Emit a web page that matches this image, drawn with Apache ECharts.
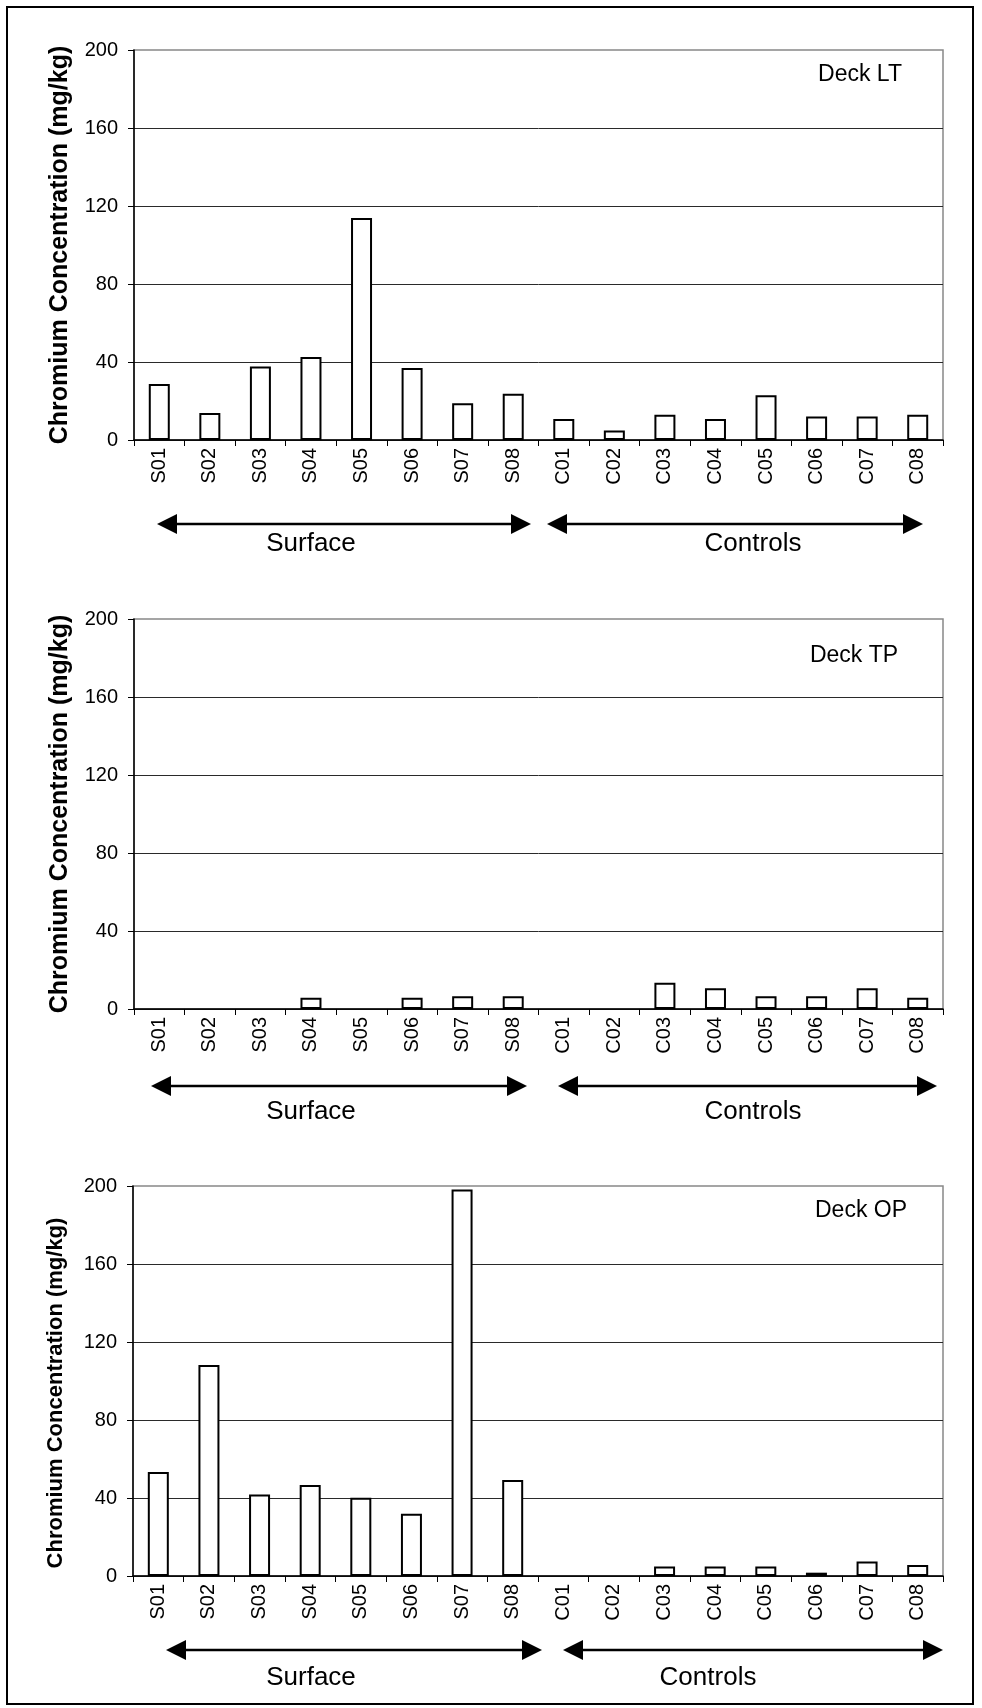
<!DOCTYPE html>
<html>
<head>
<meta charset="utf-8">
<title>Chromium Concentration by Deck</title>
<script src="https://cdn.jsdelivr.net/npm/echarts@6/dist/echarts.min.js"></script>
<style>
  html, body { margin: 0; padding: 0; background: #fff; }
  #chart { width: 982px; height: 1708px; }
</style>
</head>
<body>
<div id="chart"></div>
<script>
// Sample locations: surface samples then controls
const categories = ['S01', 'S02', 'S03', 'S04', 'S05', 'S06', 'S07', 'S08',
                    'C01', 'C02', 'C03', 'C04', 'C05', 'C06', 'C07', 'C08'];

// Chromium concentration (mg/kg) per deck; null = no result
const deckLT = [28.7, 13.8, 37.7, 42.6, 113.8, 36.9, 18.8, 23.7,
                10.8, 4.9, 13.0, 10.8, 22.9, 12.1, 12.1, 13.0];
const deckTP = [null, null, null, 5.8, null, 5.8, 6.6, 6.6,
                null, null, 13.4, 10.7, 6.6, 6.6, 10.7, 5.8];
const deckOP = [53.3, 108.2, 41.8, 46.7, 40.1, 31.9, 198.2, 49.2,
                null, null, 4.9, 4.9, 4.9, 1.7, 7.5, 5.6];

const yTicks = [0, 40, 80, 120, 160, 200];
const deckNames = ['Deck LT', 'Deck TP', 'Deck OP'];
const groupNames = ['Surface', 'Controls'];
const yTitle = 'Chromium Concentration (mg/kg)';

const FONT = "'Liberation Sans', Arial, sans-serif";

// Panel geometry (pixels)
const panels = [
  { left: 134, top: 50,   width: 809, height: 390, titleSize: 25, nameGap: 61, namePad: [0, 0, 0, 0],
    deck: [860, 75],
    arrows: [[157, 531, 524], [547, 923, 524]],
    groups: [[311, 544], [753, 544]] },
  { left: 134, top: 619,  width: 809, height: 390, titleSize: 25, nameGap: 61, namePad: [0, 0, 0, 0],
    deck: [854, 656],
    arrows: [[151, 527, 1086], [558, 937, 1086]],
    groups: [[311, 1112], [753, 1112]] },
  { left: 133, top: 1186, width: 810, height: 390, titleSize: 22, nameGap: 66, namePad: [0, 24, 0, 0],
    deck: [861, 1211],
    arrows: [[166, 542, 1650], [563, 943, 1650]],
    groups: [[311, 1678], [708, 1678]] }
];
const seriesData = [deckLT, deckTP, deckOP];

function doubleArrow(x1, x2, y) {
  const head = 20, half = 10;
  return [
    { type: 'line', shape: { x1: x1 + head - 2, y1: y, x2: x2 - head + 2, y2: y },
      style: { stroke: '#000', lineWidth: 2.5 } },
    { type: 'polygon', shape: { points: [[x1, y], [x1 + head, y - half], [x1 + head, y + half]] },
      style: { fill: '#000' } },
    { type: 'polygon', shape: { points: [[x2, y], [x2 - head, y - half], [x2 - head, y + half]] },
      style: { fill: '#000' } }
  ];
}

const grids = [], xAxes = [], yAxes = [], series = [], graphics = [];

panels.forEach((p, i) => {
  grids.push({
    left: p.left, top: p.top, width: p.width, height: p.height,
    show: true, backgroundColor: '#fff', borderColor: '#888', borderWidth: 1.5
  });
  xAxes.push({
    type: 'category', gridIndex: i, data: categories, boundaryGap: true,
    axisLine: { show: true, onZero: true, lineStyle: { color: '#000', width: 1.5 } },
    axisTick: { show: true, alignWithLabel: false, inside: false, length: 6,
                lineStyle: { color: '#000', width: 1 } },
    axisLabel: { rotate: 90, margin: 8, fontFamily: FONT, fontSize: 20, color: '#000',
                 interval: 0 },
    splitLine: { show: false }
  });
  yAxes.push({
    type: 'value', gridIndex: i,
    min: yTicks[0], max: yTicks[yTicks.length - 1], interval: yTicks[1] - yTicks[0],
    name: yTitle, nameLocation: 'middle', nameGap: p.nameGap,
    nameTextStyle: { fontFamily: FONT, fontSize: p.titleSize, fontWeight: 'bold', color: '#000',
                     padding: p.namePad },
    axisLine: { show: true, lineStyle: { color: '#000', width: 1.5 } },
    axisTick: { show: true, inside: false, length: 6, lineStyle: { color: '#000', width: 1 } },
    axisLabel: { margin: 16, fontFamily: FONT, fontSize: 20, color: '#000' },
    splitLine: { show: true, showMaxLine: false, lineStyle: { color: '#2a2a2a', width: 1 } }
  });
  series.push({
    type: 'bar', xAxisIndex: i, yAxisIndex: i, data: seriesData[i],
    barWidth: 21,
    itemStyle: { color: '#fff', borderColor: '#000', borderWidth: 2 },
    silent: true, animation: false
  });

  graphics.push({
    type: 'text', x: p.deck[0], y: p.deck[1],
    style: { text: deckNames[i], fontFamily: FONT, fontSize: 23, fill: '#000',
             textAlign: 'center', textVerticalAlign: 'middle' }
  });
  p.arrows.forEach(a => graphics.push(...doubleArrow(a[0], a[1], a[2])));
  p.groups.forEach((g, k) => graphics.push({
    type: 'text', x: g[0], y: g[1],
    style: { text: groupNames[k], fontFamily: FONT, fontSize: 26, fill: '#000',
             textAlign: 'center', textVerticalAlign: 'middle' }
  }));
});

// Outer frame
graphics.push({
  type: 'rect', shape: { x: 7, y: 7, width: 966, height: 1697 },
  style: { fill: null, stroke: '#000', lineWidth: 2 }, z: 100
});

const chart = echarts.init(document.getElementById('chart'), null, { renderer: 'canvas' });
chart.setOption({
  backgroundColor: '#fff',
  animation: false,
  grid: grids,
  xAxis: xAxes,
  yAxis: yAxes,
  series: series,
  graphic: graphics
});
</script>
</body>
</html>
